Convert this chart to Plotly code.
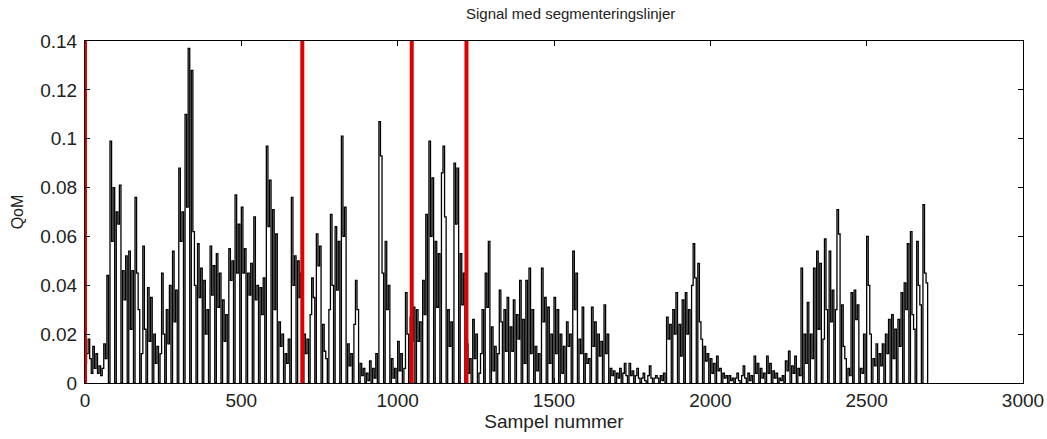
import numpy as np
import plotly.graph_objects as go

# QoM values, one reading every 5 samples (rows of 100 samples)
qom_part1 = [  # samples 0-695
    .008, .012, .018, .010, .004, .015, .006, .012, .004, .007, .003, .006, .016, .010, .044, 0, .099, .058, .080, 0,
    .070, .065, .081, 0, .046, .034, .052, 0, .054, .022, .046, 0, .076, .045, .030, 0, .012, .056, .022, 0,
    .039, .017, .035, 0, .020, .008, .015, 0, .012, .045, .020, 0, .030, .016, .040, 0, .054, .025, .038, 0,
    .088, .058, .070, 0, .110, .072, .137, 0, .128, .062, .040, 0, .057, .035, .047, 0, .042, .020, .030, 0,
    .056, .036, .048, 0, .053, .031, .045, 0, .034, .017, .028, 0, .055, .042, .050, 0, .077, .045, .065, 0,
    .072, .045, .055, 0, .045, .036, .049, 0, .068, .034, .040, 0, .039, .028, .043, 0, .097, .064, .083, 0,
    .071, .030, .061, 0, .025, .015, .020, 0, .012, .008, .018, 0, .076, .040, .052, 0, .050, .035, .045, 0,
]
qom_part2 = [  # samples 700-1395
    .020, .012, .018, 0, .028, .043, .035, 0, .061, .048, .056, 0, .024, .013, .010, 0, .030, .069, .040, 0,
    .064, .038, .058, 0, .101, .060, .072, 0, .016, .007, .012, 0, .024, .042, .030, 0, .008, .003, .006, 0,
    .004, .001, .009, 0, .006, .002, .012, 0, .107, .093, .045, 0, .058, .030, .040, 0, .010, .002, .006, 0,
    .017, .005, .012, 0, .006, .037, .020, 0, .027, .017, .031, 0, .030, .017, .025, 0, .042, .028, .069, 0,
    .099, .060, .084, 0, .058, .031, .053, 0, .086, .097, .068, 0, .030, .015, .025, 0, .090, .065, .088, 0,
    .053, .032, .045, 0, .016, .004, .010, 0, .026, .010, .020, 0, .004, .012, .030, 0, .045, .031, .058, 0,
    .023, .005, .015, 0, .012, .038, .025, 0, .030, .013, .035, 0, .023, .013, .034, 0, .028, .018, .042, 0,
]
qom_part3 = [  # samples 1400-2095
    .026, .008, .042, 0, .047, .012, .030, 0, .015, .005, .012, 0, .047, .025, .035, 0, .031, .008, .020, 0,
    .035, .012, .030, 0, .020, .004, .015, 0, .025, .015, .020, 0, .054, .030, .045, 0, .018, .012, .031, 0,
    .012, .008, .010, 0, .031, .015, .025, 0, .020, .011, .017, 0, .032, .012, .020, 0, .006, .003, .005, 0,
    .004, .002, .006, 0, .004, .008, .003, 0, .008, .003, .005, 0, .003, .006, .002, 0, .002, .004, .001, 0,
    .003, .007, .002, 0, .002, .003, .002, 0, .003, .001, .004, 0, .027, .018, .024, 0, .030, .020, .037, 0,
    .024, .011, .034, 0, .037, .020, .030, 0, .040, .057, .043, 0, .049, .025, .018, 0, .015, .009, .012, 0,
    .010, .004, .008, 0, .011, .005, .006, 0, .004, .002, .003, 0, .003, .001, .002, 0, .002, .004, .001, 0,
]
qom_part4 = [  # samples 2100-2695
    .003, .007, .002, 0, .004, .001, .003, 0, .011, .004, .008, 0, .006, .002, .004, 0, .011, .004, .008, 0,
    .005, .002, .004, 0, .002, .001, .003, 0, .009, .005, .013, 0, .007, .004, .011, 0, .006, .003, .047, 0,
    .020, .008, .033, 0, .020, .010, .047, 0, .054, .022, .049, 0, .018, .059, .030, 0, .054, .025, .038, 0,
    .030, .071, .061, 0, .032, .015, .010, 0, .006, .003, .037, 0, .038, .026, .032, 0, .006, .004, .020, 0,
    .060, .040, .020, 0, .010, .007, .016, 0, .012, .007, .016, 0, .020, .012, .026, 0, .028, .010, .022, 0,
    .026, .015, .037, 0, .041, .030, .057, 0, .062, .028, .022, 0, .058, .040, .032, 0, .073, .045, .041, 0,
]
sample_step = 5

# segment boundaries (sample numbers)
segment_lines = [0, 695, 1045, 1220]

# axis ticks
x_ticks = [0, 500, 1000, 1500, 2000, 2500, 3000]
y_ticks = [0, 0.02, 0.04, 0.06, 0.08, 0.1, 0.12, 0.14]
y_tick_text = ["0", "0.02", "0.04", "0.06", "0.08", "0.1", "0.12", "0.14"]

qom = np.array(qom_part1 + qom_part2 + qom_part3 + qom_part4)
samples = np.arange(len(qom)) * sample_step

FONT = "Liberation Sans, Arial, Helvetica, sans-serif"

fig = go.Figure()
fig.add_trace(go.Scatter(
    x=samples, y=qom, mode="lines",
    line=dict(color="black", width=1.3, shape="hv"),
    showlegend=False, hoverinfo="skip",
))
for s in segment_lines:
    fig.add_trace(go.Scatter(
        x=[s, s], y=[0, 0.14], mode="lines",
        line=dict(color="#e00000", width=4),
        showlegend=False, hoverinfo="skip",
    ))

axis_common = dict(
    showgrid=False, zeroline=False, automargin=False,
    showline=True, linecolor="black", linewidth=1, mirror="ticks",
    ticks="inside", ticklen=5, tickcolor="black", tickwidth=1,
    tickfont=dict(family=FONT, size=19, color="#222222"),
)
fig.update_xaxes(range=[0, 3000], tickvals=x_ticks,
                 title=dict(text="Sampel nummer", font=dict(family=FONT, size=19, color="#222222"), standoff=4),
                 **axis_common)
fig.update_yaxes(range=[0, 0.14], tickvals=y_ticks, ticktext=y_tick_text,
                 ticklabelstandoff=3,
                 title=dict(text="QoM", font=dict(family=FONT, size=16, color="#222222"), standoff=12),
                 **axis_common)

fig.update_layout(
    width=1047, height=439,
    margin=dict(l=85, r=24, t=41, b=56),
    paper_bgcolor="white", plot_bgcolor="white",
    title=dict(text="Signal med segmenteringslinjer", x=0.545, xanchor="center",
               y=0.968, yanchor="middle",
               font=dict(family=FONT, size=15, color="#222222")),
)

fig.write_html("out.html")
